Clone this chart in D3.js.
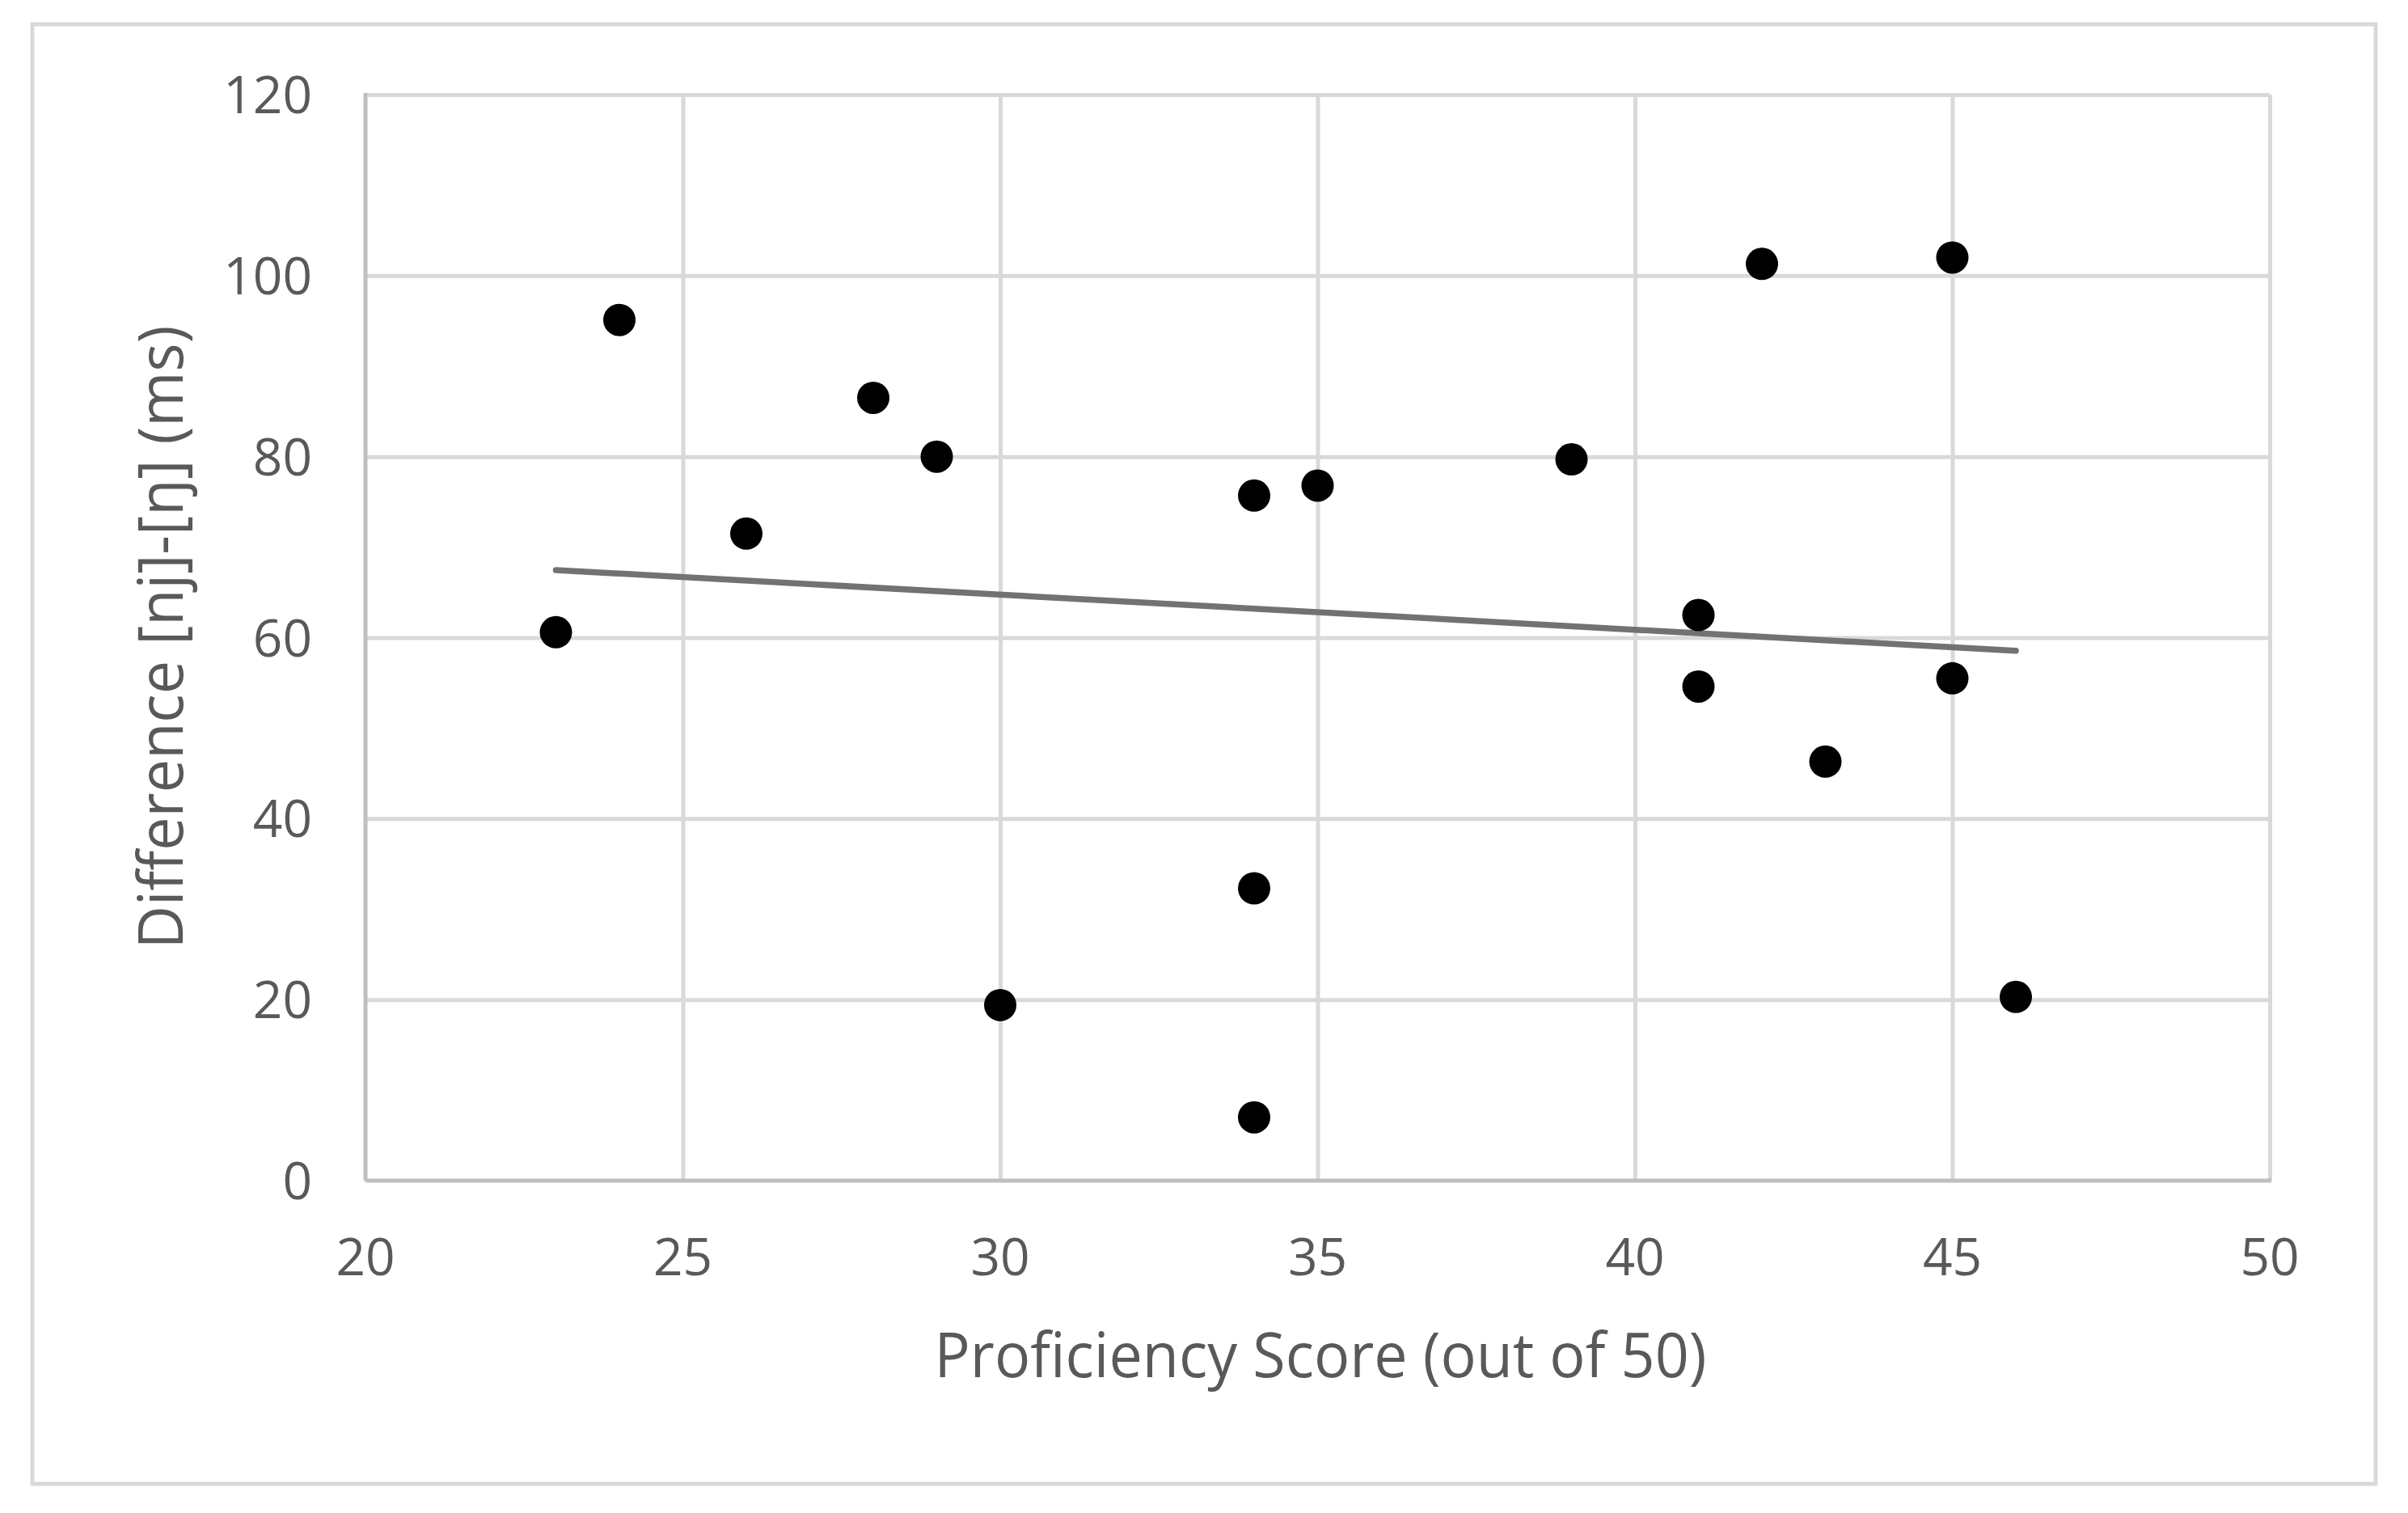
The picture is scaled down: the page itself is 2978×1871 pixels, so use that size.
<!DOCTYPE html>
<html>
<head>
<meta charset="utf-8">
<script src="https://cdn.jsdelivr.net/npm/d3@7"></script>
<style>
  html, body { margin: 0; padding: 0; background: #fff; }
  text { font-family: "Open Sans", sans-serif; fill: #595959; }
</style>
</head>
<body>
<svg id="chart" width="2978" height="1871"></svg>
<script>
'use strict';

// proficiency score (x) vs difference [nj]-[ŋ] in ms (y)
var scores=[23,24,26,28,29,30,34,34,34,35,39,41,41,42,43,45,45,46];
var diffs=[60.6,95.1,71.5,86.5,80.0,19.4,75.7,32.3,7.0,76.8,79.7,62.5,54.6,101.3,46.3,102.0,55.5,20.3];
var xTicks=[20,25,30,35,40,45,50];
var yTicks=[0,20,40,60,80,100,120];
var xTitle='Proficiency Score (out of 50)';
var yTitle='Difference [nj]-[ŋ] (ms)';

var svg=d3.select('#chart')
  , W=2978
  , H=1871
  , plot={left:452,right:2807,top:117,bottom:1460};

svg.append('rect').attr('x',0).attr('y',0).attr('width',W).attr('height',H).attr('fill','#fff');

// outer frame
svg.append('rect')
    .attr('x',40).attr('y',30)
    .attr('width',2898).attr('height',1805)
    .attr('fill','none')
    .attr('stroke','#d9d9d9')
    .attr('stroke-width',5);

var x=d3.scaleLinear().domain([20,50]).range([plot.left,plot.right])
  , y=d3.scaleLinear().domain([0,120]).range([plot.bottom,plot.top]);

// gridlines
svg.append('g').attr('class','grid')
    .attr('transform','translate(0,'+plot.bottom+')')
    .call(d3.axisBottom(x).tickValues(xTicks.slice(1)).tickSize(-(plot.bottom-plot.top)).tickFormat(''))
    .call(function(g){
        g.select('.domain').remove();
        g.selectAll('line').attr('stroke','#d9d9d9').attr('stroke-width',5);
    });
svg.append('g').attr('class','grid')
    .attr('transform','translate('+plot.left+',0)')
    .call(d3.axisLeft(y).tickValues(yTicks.slice(1)).tickSize(-(plot.right-plot.left)).tickFormat(''))
    .call(function(g){
        g.select('.domain').remove();
        g.selectAll('line').attr('stroke','#d9d9d9').attr('stroke-width',5);
    });

// axis lines
svg.append('line')
    .attr('x1',plot.left).attr('x2',plot.left)
    .attr('y1',plot.top-2).attr('y2',plot.bottom)
    .attr('stroke','#bfbfbf').attr('stroke-width',5);
svg.append('line')
    .attr('x1',plot.left).attr('x2',plot.right+2)
    .attr('y1',plot.bottom).attr('y2',plot.bottom)
    .attr('stroke','#bfbfbf').attr('stroke-width',5);

// tick labels
svg.append('g').selectAll('text')
    .data(xTicks)
    .enter().append('text')
    .attr('x',function(d){ return x(d); })
    .attr('y',1577)
    .attr('text-anchor','middle')
    .style('font-size','64px')
    .text(function(d){ return d; });

svg.append('g').selectAll('text')
    .data(yTicks)
    .enter().append('text')
    .attr('x',386)
    .attr('y',function(d){ return y(d)+23; })
    .attr('text-anchor','end')
    .style('font-size','64px')
    .text(function(d){ return d; });

// axis titles
svg.append('text')
    .attr('x',1633)
    .attr('y',1703)
    .attr('text-anchor','middle')
    .attr('textLength',955)
    .attr('lengthAdjust','spacingAndGlyphs')
    .style('font-size','76px')
    .text(xTitle);

svg.append('text')
    .attr('transform','translate(226,788) rotate(-90)')
    .attr('text-anchor','middle')
    .attr('textLength',771)
    .attr('lengthAdjust','spacingAndGlyphs')
    .style('font-size','76px')
    .text(yTitle);

// linear trendline, least squares over the points
var mx=d3.mean(scores)
  , my=d3.mean(diffs)
  , sxy=d3.sum(scores,function(v,i){ return (v-mx)*(diffs[i]-my); })
  , sxx=d3.sum(scores,function(v){ return (v-mx)*(v-mx); })
  , slope=sxy/sxx
  , icpt=my-slope*mx
  , ends=d3.extent(scores);

svg.append('path')
    .datum(ends)
    .attr('d',d3.line()
        .x(function(d){ return x(d); })
        .y(function(d){ return y(icpt+slope*d); }))
    .attr('fill','none')
    .attr('stroke','#767171')
    .attr('stroke-width',7.5)
    .attr('stroke-linecap','round');

// points
svg.append('g').selectAll('circle')
    .data(scores)
    .enter().append('circle')
    .attr('cx',function(d){ return x(d); })
    .attr('cy',function(d,i){ return y(diffs[i]); })
    .attr('r',20)
    .attr('fill','#000');
</script>
</body>
</html>
